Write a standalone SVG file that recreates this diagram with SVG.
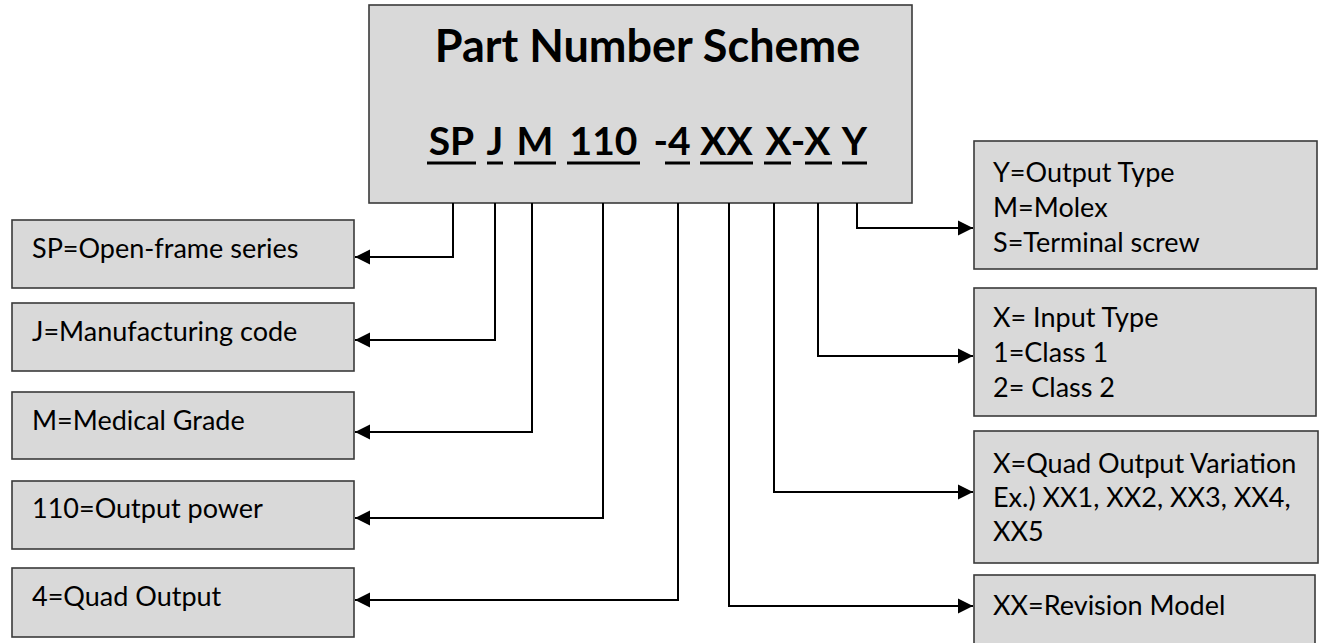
<svg xmlns="http://www.w3.org/2000/svg" width="1324" height="643" viewBox="0 0 1324 643">
<style>
.box{fill:#d9d9d9;stroke:#3a3a3a;stroke-width:1.6}
.t{font-family:Lato,"Open Sans","Liberation Sans",sans-serif;font-size:27px;fill:#000}
.h{font-family:Lato,"Open Sans","Liberation Sans",sans-serif;font-weight:700;font-size:45px;fill:#000;text-anchor:middle}
.p{font-family:Lato,"Open Sans","Liberation Sans",sans-serif;font-weight:700;font-size:39px;fill:#000;text-anchor:middle}
.ul{stroke:#000;stroke-width:3}
.c{fill:none;stroke:#000;stroke-width:2}
</style>
<defs>
<marker id="ah" markerUnits="userSpaceOnUse" markerWidth="16" markerHeight="16" viewBox="0 0 16 16" refX="15" refY="8" orient="auto">
<path d="M0,0.5 L15,8 L0,15.5 Z" fill="#000"/>
</marker>
</defs>
<rect width="1324" height="643" fill="#fff"/>
<g id="title">
<rect class="box" x="369" y="5" width="543" height="198"/>
<text class="h" x="647.5" y="62">Part Number Scheme</text>
<text class="p" x="451.5" y="155">SP</text>
<text class="p" x="495" y="155">J</text>
<text class="p" x="535" y="155">M</text>
<text class="p" x="603.5" y="155">110</text>
<text class="p" x="672" y="155">-4</text>
<text class="p" x="726.5" y="155">XX</text>
<text class="p" x="798" y="155">X-X</text>
<text class="p" x="854.5" y="155">Y</text>
<line class="ul" x1="427" y1="163" x2="476" y2="163"/>
<line class="ul" x1="487" y1="163" x2="503" y2="163"/>
<line class="ul" x1="514" y1="163" x2="556" y2="163"/>
<line class="ul" x1="567" y1="163" x2="640" y2="163"/>
<line class="ul" x1="665" y1="163" x2="690" y2="163"/>
<line class="ul" x1="700" y1="163" x2="753" y2="163"/>
<line class="ul" x1="764" y1="163" x2="791" y2="163"/>
<line class="ul" x1="805" y1="163" x2="832" y2="163"/>
<line class="ul" x1="842" y1="163" x2="867" y2="163"/>
</g>
<g id="n-sp"><rect class="box" x="12" y="220" width="342" height="68"/><text class="t" x="32" y="258">SP=Open-frame series</text></g>
<g id="n-j"><rect class="box" x="12" y="303" width="342" height="68"/><text class="t" x="32" y="341">J=Manufacturing code</text></g>
<g id="n-m"><rect class="box" x="12" y="392" width="342" height="67"/><text class="t" x="32" y="430">M=Medical Grade</text></g>
<g id="n-110"><rect class="box" x="12" y="481" width="342" height="68"/><text class="t" x="32" y="518">110=Output power</text></g>
<g id="n-4"><rect class="box" x="12" y="568" width="342" height="69"/><text class="t" x="32" y="606">4=Quad Output</text></g>
<g id="n-y"><rect class="box" x="974" y="141" width="343" height="128"/><text class="t" x="993" y="182">Y=Output Type</text><text class="t" x="993" y="217">M=Molex</text><text class="t" x="993" y="252">S=Terminal screw</text></g>
<g id="n-xin"><rect class="box" x="974" y="288" width="342" height="128"/><text class="t" x="993" y="327">X= Input Type</text><text class="t" x="993" y="362">1=Class 1</text><text class="t" x="993" y="397">2= Class 2</text></g>
<g id="n-xq"><rect class="box" x="974" y="431" width="344" height="132"/><text class="t" x="993" y="473">X=Quad Output Variation</text><text class="t" x="993" y="507">Ex.) XX1, XX2, XX3, XX4,</text><text class="t" x="993" y="541">XX5</text></g>
<g id="n-xx"><rect class="box" x="974" y="575" width="341" height="80"/><text class="t" x="993" y="615">XX=Revision Model</text></g>
<g id="connectors">
<path class="c" marker-end="url(#ah)" d="M453,203 V257 H355"/>
<path class="c" marker-end="url(#ah)" d="M495,203 V340 H355"/>
<path class="c" marker-end="url(#ah)" d="M532,203 V432 H355"/>
<path class="c" marker-end="url(#ah)" d="M603,203 V518 H355"/>
<path class="c" marker-end="url(#ah)" d="M678,203 V600 H355"/>
<path class="c" marker-end="url(#ah)" d="M729,203 V606 H973"/>
<path class="c" marker-end="url(#ah)" d="M774,203 V492 H973"/>
<path class="c" marker-end="url(#ah)" d="M818,203 V356 H973"/>
<path class="c" marker-end="url(#ah)" d="M857,203 V228 H973"/>
</g>
</svg>
